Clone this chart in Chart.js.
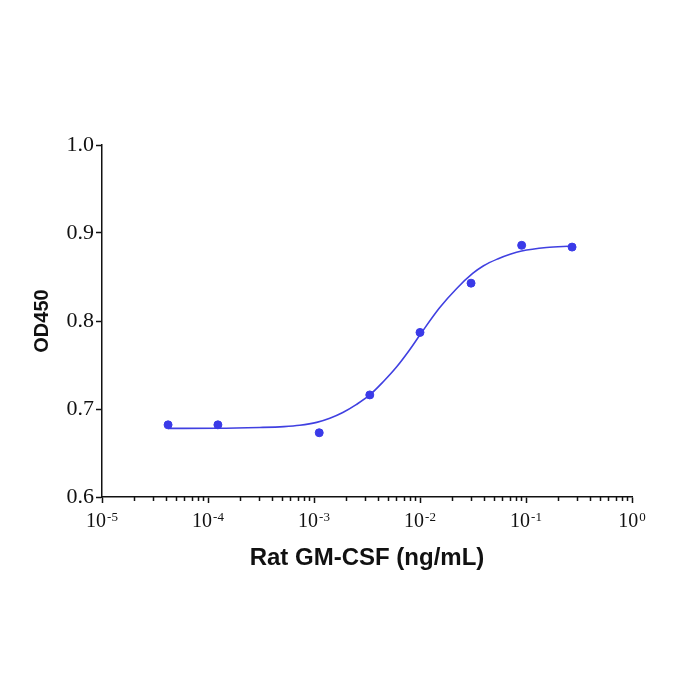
<!DOCTYPE html>
<html>
<head>
<meta charset="utf-8">
<script src="https://cdn.jsdelivr.net/npm/chart.js@4.4.1/dist/chart.umd.min.js"></script>
<style>
html,body{margin:0;padding:0;background:#fff;}
#wrap{width:700px;height:700px;position:relative;}
</style>
</head>
<body>
<div id="wrap"><canvas id="c" width="700" height="700"></canvas></div>
<script>
// Measured points: concentration (ng/mL) and OD450
const concentrations = [4.2e-5, 1.24e-4, 1.12e-3, 3.36e-3, 1.0e-2, 3.03e-2, 9.1e-2, 0.272];
const od450 = [0.682, 0.682, 0.673, 0.716, 0.787, 0.843, 0.886, 0.884];

// Fitted curve
const curveX = [4.19e-5, 1.21e-4, 3.08e-4, 5.2e-4, 7.34e-4, 1.06e-3, 1.41e-3, 1.87e-3, 2.5e-3, 3.36e-3, 4.5e-3, 6.03e-3, 7.9e-3, 1.016e-2, 1.53e-2, 2.22e-2, 3.14e-2, 3.98e-2, 5.40e-2, 7.08e-2, 9.10e-2, 0.156, 0.269];
const curveY = [0.6780, 0.6781, 0.6790, 0.6800, 0.6815, 0.6848, 0.6895, 0.6960, 0.7050, 0.7160, 0.7310, 0.7480, 0.7665, 0.7855, 0.8150, 0.8370, 0.8540, 0.8628, 0.8705, 0.8758, 0.8795, 0.8835, 0.8852];

// Axis ticks
const xMajorTicks = [1e-5, 1e-4, 1e-3, 1e-2, 1e-1, 1];
const xMajorExponents = ['-5', '-4', '-3', '-2', '-1', '0'];
const xMinorMultipliers = [2, 3, 4, 5, 6, 7, 8, 9];
const yTicks = [0.6, 0.7, 0.8, 0.9, 1.0];

const xTitle = 'Rat GM-CSF (ng/mL)';
const yTitle = 'OD450';

const blue = 'rgb(58,58,232)';

const xTickValues = [];
xMajorTicks.forEach((m, i) => {
  xTickValues.push(m);
  if (i < xMajorTicks.length - 1) xMinorMultipliers.forEach(k => xTickValues.push(+(m * k).toPrecision(3)));
});

const superLabels = {
  id: 'superLabels',
  afterDraw(chart) {
    const sc = chart.scales.x;
    const ctx = chart.ctx;
    ctx.save();
    ctx.fillStyle = '#111';
    ctx.textBaseline = 'alphabetic';
    xMajorTicks.forEach((v, i) => {
      const px = sc.getPixelForValue(v);
      const base = '10', exp = xMajorExponents[i];
      ctx.font = '20px "Liberation Serif"';
      const w1 = ctx.measureText(base).width;
      ctx.font = '13px "Liberation Serif"';
      const w2 = ctx.measureText(exp).width + 1;
      const x0 = px - (w1 + w2) / 2;
      ctx.font = '20px "Liberation Serif"';
      ctx.fillText(base, x0, 527);
      ctx.font = '13px "Liberation Serif"';
      ctx.fillText(exp, x0 + w1 + 1, 521);
    });
    // minor ticks (shorter)
    ctx.strokeStyle = '#111';
    ctx.lineWidth = 1.5;
    xTickValues.forEach(v => {
      if (xMajorTicks.includes(v)) return;
      const px = Math.round(sc.getPixelForValue(v)) + 0.5;
      ctx.beginPath();
      ctx.moveTo(px, sc.top);
      ctx.lineTo(px, sc.top + 4);
      ctx.stroke();
    });
    ctx.restore();
  }
};

new Chart(document.getElementById('c'), {
  type: 'scatter',
  data: {
    datasets: [
      {
        label: 'points',
        data: concentrations.map((x, i) => ({x: x, y: od450[i]})),
        backgroundColor: blue,
        borderColor: blue,
        pointRadius: 4,
        pointHoverRadius: 4,
        showLine: false
      },
      {
        label: 'fit',
        data: curveX.map((x, i) => ({x: x, y: curveY[i]})),
        borderColor: 'rgb(64,64,225)',
        borderWidth: 1.6,
        pointRadius: 0,
        showLine: true,
        cubicInterpolationMode: 'monotone',
        fill: false
      }
    ]
  },
  options: {
    responsive: false,
    animation: false,
    events: [],
    layout: {padding: {left: 0, top: 145, right: 68, bottom: 0}},
    plugins: {legend: {display: false}, tooltip: {enabled: false}},
    scales: {
      x: {
        type: 'logarithmic',
        min: 1e-5,
        max: 1,
        afterBuildTicks: (s) => { s.ticks = xTickValues.map(v => ({value: v, major: xMajorTicks.includes(v)})); },
        afterFit: (s) => { s.height = 203; },
        border: {display: true, color: '#111', width: 1.5},
        grid: {
          display: true,
          drawOnChartArea: false,
          drawTicks: true,
          tickLength: 6,
          tickWidth: 1.5,
          tickColor: (ctx) => (ctx.tick && xMajorTicks.includes(ctx.tick.value)) ? '#111' : 'rgba(0,0,0,0)'
        },
        ticks: {
          autoSkip: false,
          maxRotation: 0,
          color: 'rgba(0,0,0,0)',
          font: {family: 'Liberation Serif', size: 18},
          callback: (v) => ''
        },
        title: {
          display: true,
          text: xTitle,
          color: '#111',
          font: {family: 'Liberation Sans', size: 24, weight: 'bold'},
          padding: {top: 0, bottom: 127}
        }
      },
      y: {
        min: 0.6,
        max: 1.0,
        afterBuildTicks: (s) => { s.ticks = yTicks.map(v => ({value: v})); },
        afterFit: (s) => { s.width = 102; },
        border: {display: true, color: '#111', width: 1.5},
        grid: {
          display: true,
          drawOnChartArea: false,
          drawTicks: true,
          tickLength: 6,
          tickWidth: 1.5,
          tickColor: '#111'
        },
        ticks: {
          color: '#111',
          padding: 2,
          font: {family: 'Liberation Serif', size: 22},
          callback: (v) => Number(v).toFixed(1)
        },
        title: {
          display: true,
          text: yTitle,
          color: '#111',
          font: {family: 'Liberation Sans', size: 20, weight: 'bold'},
          padding: {top: 30, bottom: 0}
        }
      }
    }
  },
  plugins: [superLabels]
});
</script>
</body>
</html>
